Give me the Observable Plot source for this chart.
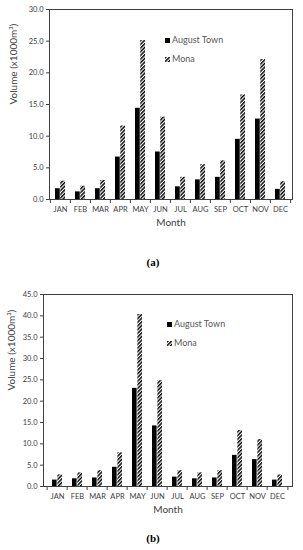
<!DOCTYPE html>
<html><head><meta charset="utf-8">
<script src="https://cdn.jsdelivr.net/npm/d3@7"></script>
<script src="https://cdn.jsdelivr.net/npm/@observablehq/plot@0.6"></script>
<style>
body{margin:0;background:#fff;}
#root{position:relative;width:303px;height:550px;font-family:Lato,"Open Sans",sans-serif;overflow:hidden;}
.panel{position:absolute;left:0;}
.cap{position:absolute;left:0;width:306px;text-align:center;font-family:"Liberation Serif",serif;font-weight:bold;font-size:11px;color:#000;}
.leg{position:absolute;font-size:9px;color:#595959;line-height:10px;white-space:nowrap;}
.leg svg{vertical-align:0px;margin-right:2px;}
</style>
</head><body><div id="root"></div>
<script>
const months = ["JAN","FEB","MAR","APR","MAY","JUN","JUL","AUG","SEP","OCT","NOV","DEC"];
const seriesNames = ["August Town","Mona"];
// (a)
const augustTownA = [1.7,1.2,1.7,6.7,14.4,7.5,2.0,3.1,3.5,9.5,12.7,1.6];
const monaA       = [2.9,2.1,3.0,11.6,25.1,13.0,3.5,5.5,6.1,16.5,22.1,2.8];
const yTicksA = [0,5,10,15,20,25,30];
// (b)
const augustTownB = [1.5,1.8,2.0,4.5,23.0,14.2,2.2,1.8,2.0,7.3,6.3,1.5];
const monaB       = [2.7,3.2,3.7,7.9,40.3,24.8,3.7,3.2,3.7,13.1,11.0,2.7];
const yTicksB = [0,5,10,15,20,25,30,35,40,45];
const yLabel = "Volume (x1000m³)";
const xLabel = "Month";
const captions = ["(a)","(b)"];

const root = document.getElementById("root");
const W = 303;

function hatchDefs(id){
  return `<defs><pattern id="${id}" patternUnits="userSpaceOnUse" width="2.6" height="2.6" patternTransform="rotate(45)">
  <rect width="2.6" height="2.6" fill="white"/><line x1="0.7" y1="0" x2="0.7" y2="2.6" stroke="black" stroke-width="1.5"/></pattern></defs>`;
}

function chart(cfg){
  const {at, mona, yTicks, top, height, marginLeft, marginTop, marginBottom, pid, labelDx} = cfg;
  const marginRight = 11;
  const step = (W - marginLeft - marginRight) / months.length;
  const pad = 0.48;
  const bw = step * (1 - pad);
  const dataAT = months.map((m,i)=>({month:m, series:seriesNames[0], value:at[i]}));
  const dataMona = months.map((m,i)=>({month:m, series:seriesNames[1], value:mona[i]}));
  const yMax = yTicks[yTicks.length-1];
  const svg = Plot.plot({
    width: W, height, marginLeft, marginRight, marginTop, marginBottom,
    style: {fontFamily: "Lato, 'Open Sans', sans-serif", fontSize: "7.5px", color: "#404040", background: "white", overflow: "visible"},
    x: {domain: months, paddingInner: pad, paddingOuter: pad/2, axis: null},
    y: {domain: [0, yMax], axis: null},
    marks: [
      Plot.barY(dataAT, {x: "month", y: "value", fill: "black", insetRight: bw/2}),
      Plot.barY(dataMona, {x: "month", y: "value", fill: `url(#${pid})`, insetLeft: bw/2}),
      Plot.frame({stroke: "#404040", strokeWidth: 1}),
      Plot.axisY({ticks: yTicks, tickFormat: d => d.toFixed(1), tickSize: 3, tickPadding: 3, label: null, stroke: "#404040"}),
      Plot.axisX({tickSize: 0, tickPadding: 7, label: null}),
      Plot.axisX(months, {tickSize: 4, tickFormat: () => "", dx: -step/2, label: null, stroke: "#404040"}),
      Plot.axisX([months[months.length-1]], {tickSize: 4, tickFormat: () => "", dx: step/2, label: null, stroke: "#404040"}),
      Plot.text([yLabel], {frameAnchor: "left", rotate: -90, dx: labelDx, fontSize: 10, fill: "#404040"}),
      Plot.text([xLabel], {frameAnchor: "bottom", dy: 26, fontSize: 10, fill: "#404040"})
    ]
  });
  svg.insertAdjacentHTML("afterbegin", hatchDefs(pid));
  const wrap = document.createElement("div");
  wrap.className = "panel";
  wrap.style.top = top + "px";
  wrap.appendChild(svg);
  root.appendChild(wrap);
}

chart({at: augustTownA, mona: monaA, yTicks: yTicksA, top: 0, height: 240, marginLeft: 49, marginTop: 9, marginBottom: 41, pid: "hatchA", labelDx: -36});
chart({at: augustTownB, mona: monaB, yTicks: yTicksB, top: 275, height: 245, marginLeft: 43, marginTop: 19, marginBottom: 34, pid: "hatchB", labelDx: -32});

function legend(top, left, pid){
  const sw = [
    `<svg width="5" height="5"><rect width="5" height="5" fill="black"/></svg>`,
    `<svg width="5" height="5">${hatchDefs(pid+"L")}<rect width="5" height="5" fill="url(#${pid}L)"/></svg>`
  ];
  seriesNames.forEach((s,i)=>{
    const d = document.createElement("div");
    d.className = "leg";
    d.style.top = (top + i*19) + "px";
    d.style.left = left + "px";
    d.innerHTML = sw[i] + s;
    root.appendChild(d);
  });
}
legend(35, 165, "legA");
legend(319, 167, "legB");

captions.forEach((c,i)=>{
  const d = document.createElement("div");
  d.className = "cap";
  d.style.top = (i === 0 ? 256 : 532) + "px";
  d.textContent = c;
  root.appendChild(d);
});
</script>
</body></html>
